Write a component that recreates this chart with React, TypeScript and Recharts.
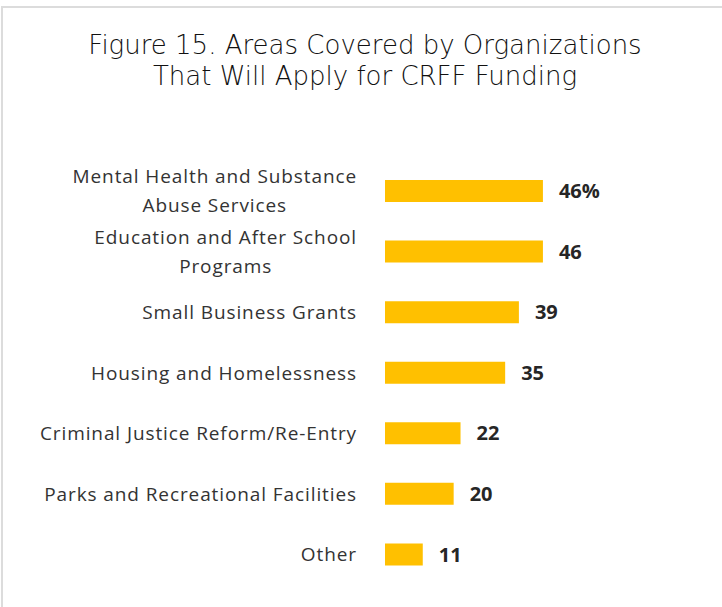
import { BarChart, Bar, XAxis, YAxis, LabelList } from 'recharts';

const categories = [
  'Mental Health and Substance\nAbuse Services',
  'Education and After School\nPrograms',
  'Small Business Grants',
  'Housing and Homelessness',
  'Criminal Justice Reform/Re-Entry',
  'Parks and Recreational Facilities',
  'Other',
];
const percents = [46, 46, 39, 35, 22, 20, 11];
const titleLines = ['Figure 15. Areas Covered by Organizations', 'That Will Apply for CRFF Funding'];

const BAR_COLOR = '#FFC000';
const TEXT_COLOR = '#333333';

const data = categories.map((name, i) => ({
  name,
  value: percents[i],
  display: i === 0 ? `${percents[i]}%` : `${percents[i]}`,
}));

const CategoryTick = (props: any) => {
  const { x, y, payload } = props;
  const w = 380;
  const h = 80;
  return (
    <foreignObject x={x - 28 - w} y={y - h / 2} width={w} height={h}>
      <div
        style={{
          width: w,
          height: h,
          display: 'flex',
          alignItems: 'center',
          justifyContent: 'flex-end',
          fontFamily: '"Open Sans", sans-serif',
          fontSize: 19,
          letterSpacing: 0.9,
          lineHeight: '29px',
          color: TEXT_COLOR,
        }}
      >
        <span style={{ textAlign: 'center', whiteSpace: 'pre' }}>{payload.value}</span>
      </div>
    </foreignObject>
  );
};

export default function App() {
  return (
    <div style={{ position: 'absolute', left: 0, top: 0, width: 722, height: 607, background: '#fff', overflow: 'hidden' }}>
      <div
        style={{
          position: 'absolute',
          left: 1,
          top: 6,
          width: 740,
          height: 620,
          borderTop: '2px solid #dcdcdc',
          borderLeft: '2px solid #dcdcdc',
        }}
      />
      <div
        style={{
          position: 'absolute',
          left: 8,
          width: 714,
          top: 30,
          textAlign: 'center',
          fontFamily: '"DejaVu Sans", sans-serif',
          fontWeight: 300,
          fontSize: 26,
          lineHeight: '31px',
          color: '#111111',
        }}
      >
        {titleLines.map((t) => (
          <div key={t}>{t}</div>
        ))}
      </div>
      <div style={{ position: 'absolute', left: 0, top: 0 }}>
        <BarChart
          width={722}
          height={607}
          data={data}
          layout="vertical"
          margin={{ top: 161, right: 131, bottom: 22, left: 0 }}
        >
          <XAxis type="number" domain={[0, 60]} hide />
          <YAxis
            type="category"
            dataKey="name"
            width={385}
            axisLine={false}
            tickLine={false}
            tickSize={0}
            tickMargin={0}
            interval={0}
            tick={<CategoryTick />}
          />
          <Bar dataKey="value" fill={BAR_COLOR} barSize={22} isAnimationActive={false}>
            <LabelList
              dataKey="display"
              position="right"
              offset={16}
              fill="#262626"
              style={{ fontFamily: '"Open Sans", sans-serif', fontWeight: 700, fontSize: 20 }}
            />
          </Bar>
        </BarChart>
      </div>
    </div>
  );
}
